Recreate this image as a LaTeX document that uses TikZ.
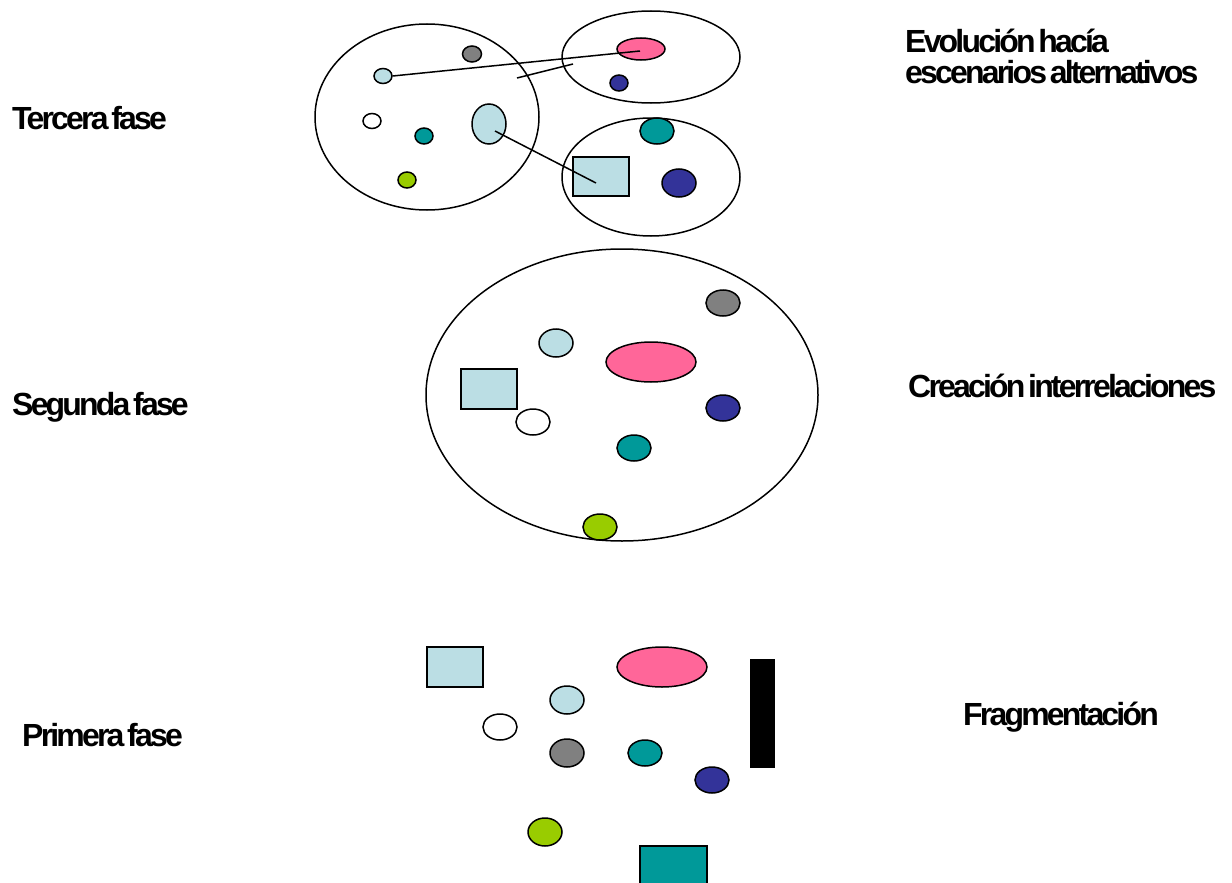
\documentclass[tikz,border=0pt]{standalone}
\usepackage{fontspec}
\setmainfont{Liberation Sans}
\newfontfamily\lblfont[LetterSpace=-8.8,WordSpace=0.45]{Liberation Sans}
\usetikzlibrary{shapes.geometric}
\definecolor{cpink}{RGB}{255,102,153}
\definecolor{clblue}{RGB}{187,222,228}
\definecolor{cgray}{RGB}{128,128,128}
\definecolor{cteal}{RGB}{0,153,153}
\definecolor{cnavy}{RGB}{51,51,153}
\definecolor{cgreen}{RGB}{153,204,0}
\tikzset{
  blob/.style={ellipse, draw, line width=1.5pt, inner sep=0pt},
  group/.style={ellipse, draw, line width=1.5pt, inner sep=0pt},
  boxshape/.style={rectangle, draw, line width=1.5pt, inner sep=0pt},
  link/.style={line width=1.5pt},
  lbl/.style={font=\lblfont\bfseries\fontsize{32}{36}\selectfont, inner sep=0pt, anchor=base west, align=left},
}
\begin{document}
\begin{tikzpicture}[x=1pt,y=-1pt]
\useasboundingbox (0,0) rectangle (1232,883);
% ---------- Tercera fase ----------
\node[group, minimum width=224, minimum height=186] (g1) at (427,117) {};
\node[group, minimum width=178, minimum height=92] (g2) at (651,57) {};
\node[group, minimum width=178, minimum height=118] (g3) at (651,177) {};
\node[blob, fill=cgray, minimum width=19, minimum height=16] (t1gray) at (472,54) {};
\node[blob, fill=clblue, minimum width=18, minimum height=15] (t1lb) at (383,76) {};
\node[blob, fill=white, minimum width=18, minimum height=15] (t1white) at (372,121) {};
\node[blob, fill=cteal, minimum width=18, minimum height=16] (t1teal) at (424,136) {};
\node[blob, fill=clblue, minimum width=34, minimum height=40] (t1lbbig) at (489,124) {};
\node[blob, fill=cgreen, minimum width=18, minimum height=16] (t1green) at (407,180) {};
\node[blob, fill=cpink, minimum width=48, minimum height=22] (t2pink) at (641,49) {};
\node[blob, fill=cnavy, minimum width=18, minimum height=16] (t2navy) at (619,83) {};
\node[blob, fill=cteal, minimum width=34, minimum height=26] (t3teal) at (657,131) {};
\node[boxshape, fill=clblue, minimum width=56, minimum height=39] (t3box) at (601,176.5) {};
\node[blob, fill=cnavy, minimum width=34, minimum height=28] (t3navy) at (679,183) {};
\coordinate (a1) at (640,51);
\coordinate (b0) at (517,78);
\coordinate (b1) at (573,64);
\coordinate (c0) at (495,131);
\coordinate (c1) at (596,183);
\draw[link] (t1lb.east) -- (a1);
\draw[link] (b0) -- (b1);
\draw[link] (c0) -- (c1);
% ---------- Segunda fase ----------
\node[group, minimum width=392, minimum height=292] (g4) at (622,395) {};
\node[blob, fill=cgray, minimum width=34, minimum height=26] (s_gray) at (723,303) {};
\node[blob, fill=clblue, minimum width=34, minimum height=28] (s_lb) at (556,343) {};
\node[blob, fill=cpink, minimum width=90, minimum height=40] (s_pink) at (651,362) {};
\node[boxshape, fill=clblue, minimum width=56, minimum height=40] (s_box) at (489,389) {};
\node[blob, fill=white, minimum width=34, minimum height=26] (s_white) at (533,422) {};
\node[blob, fill=cnavy, minimum width=34, minimum height=26] (s_navy) at (723,408) {};
\node[blob, fill=cteal, minimum width=34, minimum height=26] (s_teal) at (634,448) {};
\node[blob, fill=cgreen, minimum width=34, minimum height=26] (s_green) at (600,527) {};
% ---------- Primera fase ----------
\node[boxshape, fill=clblue, minimum width=56, minimum height=40] (p_box) at (455,667) {};
\node[blob, fill=cpink, minimum width=90, minimum height=40] (p_pink) at (662,667) {};
\node[boxshape, fill=black, minimum width=23, minimum height=107] (p_bar) at (762.5,713.5) {};
\node[blob, fill=clblue, minimum width=34, minimum height=28] (p_lb) at (567,700) {};
\node[blob, fill=white, minimum width=34, minimum height=26] (p_white) at (500,727) {};
\node[blob, fill=cgray, minimum width=34, minimum height=28] (p_gray) at (567,753) {};
\node[blob, fill=cteal, minimum width=34, minimum height=26] (p_teal) at (645,753) {};
\node[blob, fill=cnavy, minimum width=34, minimum height=26] (p_navy) at (712,780) {};
\node[blob, fill=cgreen, minimum width=34, minimum height=28] (p_green) at (545,832) {};
\node[boxshape, fill=cteal, minimum width=67, minimum height=44] (p_tealbox) at (673.5,868) {};
% ---------- Labels ----------
\node[lbl] (l3) at (12,129) {Tercera fase};
\node[lbl] (l2) at (12,415) {Segunda fase};
\node[lbl] (l1) at (22,746) {Primera fase};
\node[lbl] (r3a) at (905,53) {Evolución hacía};
\node[lbl] (r3b) at (905,84) {escenarios alternativos};
\node[lbl] (r2) at (908,397) {Creación interrelaciones};
\node[lbl] (r1) at (963,725) {Fragmentación};
\end{tikzpicture}
\end{document}
